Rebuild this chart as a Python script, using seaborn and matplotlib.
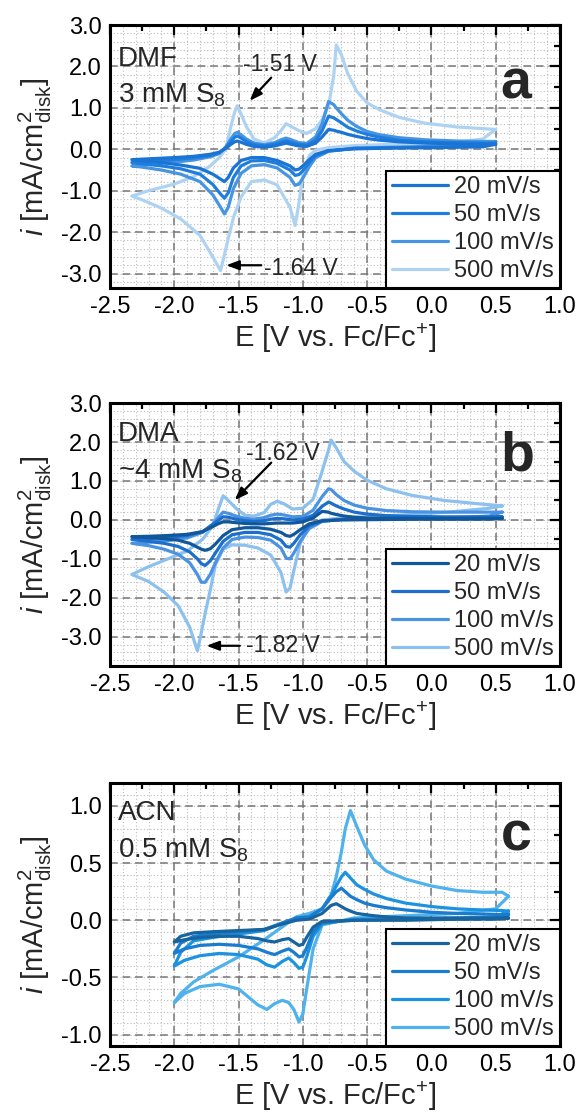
import matplotlib
matplotlib.use('Agg')
import matplotlib.pyplot as plt
from matplotlib.ticker import MultipleLocator, FormatStrFormatter
from matplotlib.lines import Line2D
import numpy as np
import pandas as pd
import seaborn as sns

sns.set_style('white')
plt.rcParams['font.family'] = ['Liberation Sans', 'DejaVu Sans']
plt.rcParams['mathtext.fontset'] = 'custom'
plt.rcParams['mathtext.rm'] = 'Liberation Sans'
plt.rcParams['mathtext.it'] = 'Liberation Sans:italic'
plt.rcParams['axes.unicode_minus'] = False

RATES = ['20 mV/s', '50 mV/s', '100 mV/s', '500 mV/s']

# ---- panel a: DMF, 3 mM S8 ----
A_E_CATH = [0.50, 0.40, 0.20, 0.00, -0.30, -0.60, -0.80, -0.90, -0.95, -1.00, -1.03, -1.06, -1.10, -1.20,
            -1.30, -1.40, -1.48, -1.54, -1.58, -1.61, -1.64, -1.70, -1.80, -1.95, -2.10, -2.25, -2.33]
A_CATH_20 = [0.12, 0.06, 0.05, 0.04, 0.03, 0.01, -0.03, -0.12, -0.25, -0.40, -0.48, -0.50, -0.40, -0.27,
             -0.20, -0.20, -0.27, -0.45, -0.68, -0.78, -0.72, -0.60, -0.46, -0.38, -0.32, -0.28, -0.25]
A_CATH_50 = [0.15, 0.08, 0.06, 0.05, 0.04, 0.02, -0.04, -0.15, -0.32, -0.52, -0.61, -0.63, -0.50, -0.34,
             -0.27, -0.28, -0.40, -0.68, -1.05, -1.18, -1.08, -0.85, -0.60, -0.47, -0.40, -0.35, -0.32]
A_CATH_100 = [0.19, 0.10, 0.08, 0.07, 0.05, 0.03, -0.05, -0.20, -0.42, -0.70, -0.84, -0.87, -0.68, -0.45,
              -0.37, -0.40, -0.58, -0.95, -1.40, -1.56, -1.40, -1.10, -0.78, -0.60, -0.50, -0.43, -0.40]
A_CATH_500 = [0.48, 0.25, 0.17, 0.14, 0.12, 0.09, 0.04, -0.02, -0.15, -0.60, -1.30, -1.84, -1.40, -0.86,
              -0.74, -0.78, -1.15, -1.65, -2.15, -2.55, -2.93, -2.60, -2.08, -1.68, -1.42, -1.22, -1.13]
A_E_ANOD = [-2.33, -2.20, -2.00, -1.85, -1.72, -1.65, -1.60, -1.56, -1.53, -1.51, -1.48, -1.44, -1.38, -1.30,
            -1.22, -1.17, -1.13, -1.09, -1.03, -0.97, -0.90, -0.85, -0.80, -0.76, -0.74, -0.70, -0.65, -0.58,
            -0.50, -0.40, -0.25, -0.05, 0.20, 0.40, 0.50]
A_ANOD_20 = [-0.25, -0.23, -0.20, -0.17, -0.12, -0.07, 0.02, 0.12, 0.18, 0.20, 0.17, 0.12, 0.07, 0.05,
             0.08, 0.12, 0.15, 0.12, 0.08, 0.07, 0.15, 0.30, 0.48, 0.46, 0.44, 0.41, 0.36, 0.31,
             0.26, 0.22, 0.18, 0.15, 0.13, 0.12, 0.12]
A_ANOD_50 = [-0.32, -0.29, -0.25, -0.21, -0.15, -0.08, 0.04, 0.18, 0.29, 0.32, 0.27, 0.19, 0.11, 0.08,
             0.12, 0.17, 0.20, 0.17, 0.12, 0.10, 0.22, 0.45, 0.80, 0.76, 0.72, 0.64, 0.53, 0.44,
             0.36, 0.29, 0.22, 0.18, 0.16, 0.15, 0.15]
A_ANOD_100 = [-0.40, -0.36, -0.31, -0.26, -0.18, -0.10, 0.05, 0.25, 0.38, 0.41, 0.35, 0.25, 0.15, 0.11,
              0.16, 0.23, 0.27, 0.23, 0.16, 0.14, 0.30, 0.62, 1.15, 1.08, 1.00, 0.86, 0.70, 0.55,
              0.43, 0.35, 0.28, 0.23, 0.20, 0.19, 0.19]
A_ANOD_500 = [-1.13, -1.00, -0.84, -0.66, -0.40, -0.20, 0.00, 0.55, 0.90, 1.05, 0.85, 0.55, 0.25, 0.15,
              0.28, 0.45, 0.62, 0.55, 0.45, 0.38, 0.50, 0.72, 1.05, 1.77, 2.52, 2.28, 1.82, 1.40,
              1.12, 0.95, 0.77, 0.63, 0.54, 0.50, 0.48]
A_COLORS = ['#1a74d6', '#1f7ddd', '#4595e3', '#aed3f2']

# ---- panel b: DMA, ~4 mM S8 ----
B_E_CATH = [0.55, 0.45, 0.20, -0.10, -0.40, -0.70, -0.85, -0.95, -1.02, -1.07, -1.10, -1.13, -1.17, -1.25,
            -1.35, -1.45, -1.55, -1.62, -1.68, -1.72, -1.76, -1.79, -1.82, -1.88, -1.97, -2.08, -2.20, -2.33]
B_CATH_20 = [0.04, 0.02, 0.02, 0.02, 0.01, 0.00, -0.02, -0.10, -0.25, -0.37, -0.42, -0.40, -0.32, -0.24,
             -0.20, -0.20, -0.25, -0.40, -0.62, -0.74, -0.78, -0.75, -0.70, -0.60, -0.52, -0.48, -0.45, -0.43]
B_CATH_50 = [0.08, 0.04, 0.03, 0.03, 0.02, 0.01, -0.03, -0.15, -0.38, -0.60, -0.70, -0.68, -0.52, -0.38,
             -0.32, -0.32, -0.38, -0.55, -0.85, -1.05, -1.17, -1.12, -1.00, -0.82, -0.68, -0.60, -0.55, -0.50]
B_CATH_100 = [0.20, 0.10, 0.06, 0.05, 0.04, 0.02, -0.04, -0.22, -0.55, -0.85, -1.00, -0.98, -0.72, -0.52,
              -0.45, -0.44, -0.50, -0.72, -1.10, -1.40, -1.60, -1.60, -1.40, -1.10, -0.88, -0.75, -0.66, -0.60]
B_CATH_500 = [0.36, 0.30, 0.22, 0.15, 0.10, 0.05, 0.00, -0.15, -0.60, -1.30, -1.75, -1.85, -1.35, -0.90,
              -0.72, -0.65, -0.64, -0.75, -1.15, -1.80, -2.40, -2.90, -3.36, -2.75, -2.20, -1.85, -1.58, -1.40]
B_E_ANOD = [-2.33, -2.20, -2.05, -1.90, -1.78, -1.70, -1.66, -1.62, -1.58, -1.52, -1.45, -1.38, -1.30, -1.25,
            -1.20, -1.15, -1.08, -1.00, -0.92, -0.85, -0.80, -0.78, -0.74, -0.68, -0.60, -0.50, -0.35, -0.15,
            0.10, 0.35, 0.55]
B_ANOD_20 = [-0.43, -0.42, -0.40, -0.37, -0.30, -0.17, -0.10, -0.05, -0.05, -0.07, -0.09, -0.10, -0.10, -0.09,
             -0.08, -0.08, -0.08, -0.05, 0.05, 0.22, 0.20, 0.17, 0.14, 0.10, 0.07, 0.05, 0.04, 0.04,
             0.04, 0.04, 0.04]
B_ANOD_50 = [-0.50, -0.48, -0.45, -0.40, -0.30, -0.12, -0.02, 0.08, 0.07, 0.02, -0.02, -0.04, -0.02, 0.02,
             0.04, 0.03, 0.00, 0.02, 0.12, 0.35, 0.46, 0.43, 0.36, 0.28, 0.20, 0.15, 0.11, 0.09,
             0.08, 0.08, 0.08]
B_ANOD_100 = [-0.60, -0.57, -0.53, -0.46, -0.32, -0.10, 0.05, 0.20, 0.17, 0.10, 0.04, 0.02, 0.06, 0.12,
              0.15, 0.13, 0.08, 0.09, 0.25, 0.60, 0.80, 0.78, 0.65, 0.50, 0.38, 0.30, 0.24, 0.21,
              0.20, 0.20, 0.20]
B_ANOD_500 = [-1.40, -1.20, -1.00, -0.80, -0.50, -0.15, 0.25, 0.62, 0.50, 0.30, 0.12, 0.10, 0.19, 0.40,
              0.48, 0.42, 0.28, 0.30, 0.53, 1.25, 1.80, 2.05, 1.85, 1.50, 1.25, 1.02, 0.80, 0.63,
              0.50, 0.42, 0.36]
B_COLORS = ['#11579b', '#1c6fcc', '#4a93e2', '#8cc1ef']

# ---- panel c: ACN, 0.5 mM S8 ----
C_E_CATH = [0.60, 0.50, 0.20, -0.20, -0.60, -0.85, -0.92, -0.97, -1.00, -1.03, -1.07, -1.11, -1.16, -1.22,
            -1.28, -1.35, -1.50, -1.65, -1.80, -1.92, -2.00]
C_CATH_20 = [0.02, 0.01, 0.01, 0.00, 0.00, -0.01, -0.06, -0.15, -0.21, -0.22, -0.19, -0.16, -0.17, -0.19,
             -0.18, -0.16, -0.14, -0.14, -0.15, -0.17, -0.19]
C_CATH_50 = [0.05, 0.02, 0.01, 0.01, 0.00, -0.02, -0.10, -0.24, -0.31, -0.32, -0.28, -0.25, -0.27, -0.30,
             -0.28, -0.25, -0.22, -0.21, -0.22, -0.25, -0.29]
C_CATH_100 = [0.08, 0.03, 0.02, 0.01, 0.01, -0.03, -0.14, -0.32, -0.41, -0.42, -0.37, -0.33, -0.36, -0.41,
              -0.39, -0.34, -0.30, -0.29, -0.31, -0.35, -0.40]
C_CATH_500 = [0.21, 0.10, 0.06, 0.04, 0.02, -0.04, -0.25, -0.60, -0.82, -0.89, -0.78, -0.72, -0.70, -0.73,
              -0.78, -0.74, -0.60, -0.56, -0.58, -0.64, -0.72]
C_E_ANOD = [-2.00, -1.95, -1.85, -1.70, -1.50, -1.30, -1.15, -1.05, -0.95, -0.85, -0.78, -0.74, -0.70, -0.67,
            -0.63, -0.58, -0.52, -0.45, -0.35, -0.20, 0.00, 0.20, 0.40, 0.55, 0.60]
C_ANOD_20 = [-0.19, -0.14, -0.11, -0.10, -0.09, -0.08, -0.03, 0.00, 0.01, 0.06, 0.13, 0.145, 0.12, 0.10,
             0.08, 0.06, 0.05, 0.04, 0.03, 0.02, 0.02, 0.02, 0.02, 0.02, 0.02]
C_ANOD_50 = [-0.29, -0.20, -0.14, -0.12, -0.10, -0.08, -0.02, 0.02, 0.03, 0.10, 0.20, 0.25, 0.28, 0.25,
             0.21, 0.18, 0.15, 0.13, 0.11, 0.09, 0.07, 0.06, 0.055, 0.05, 0.05]
C_ANOD_100 = [-0.40, -0.28, -0.18, -0.15, -0.12, -0.09, -0.02, 0.02, 0.03, 0.10, 0.22, 0.30, 0.38, 0.42,
              0.37, 0.31, 0.27, 0.23, 0.19, 0.15, 0.12, 0.10, 0.09, 0.085, 0.08]
C_ANOD_500 = [-0.72, -0.64, -0.54, -0.44, -0.32, -0.17, -0.05, 0.03, 0.06, 0.10, 0.22, 0.38, 0.60, 0.80,
              0.96, 0.82, 0.66, 0.53, 0.43, 0.36, 0.30, 0.26, 0.245, 0.245, 0.21]
C_COLORS = ['#17649f', '#1a7ccf', '#1b93e0', '#4fb2ec']


def make_frame(e_cath, cath, e_anod, anod):
    rows = []
    for rate, ic, ia in zip(RATES, cath, anod):
        e = list(e_cath) + list(e_anod)
        cur = list(ic) + list(ia)
        for k, (ev, iv) in enumerate(zip(e, cur)):
            rows.append((rate, k, ev, iv))
    return pd.DataFrame(rows, columns=['rate', 'step', 'E', 'i'])


def arrow(ax, tail, tip):
    ax.annotate('', xy=tip, xytext=tail,
                arrowprops=dict(arrowstyle='-|>,head_length=0.75,head_width=0.28',
                                color='black', lw=1.6, shrinkA=0, shrinkB=0))


def draw_panel(ax, df, colors, ylim, ymajor, yminor, ygrid, solvent, conc, letter, letter_y):
    # fine dotted background grid
    for x in np.arange(-2.5, 1.0001, 0.1):
        ax.axvline(x, color='#bdbdbd', lw=0.8, ls=(0, (1, 2)), zorder=0)
    for y in np.arange(np.ceil(ylim[0] / ygrid) * ygrid, ylim[1] + 1e-6, ygrid):
        ax.axhline(y, color='#bdbdbd', lw=0.8, ls=(0, (1, 2)), zorder=0)
    ax.grid(which='major', color='#777777', lw=1.1, ls=(0, (5, 3.2)), zorder=0.5)
    ax.set_axisbelow(True)

    pal = dict(zip(RATES, colors))
    sns.lineplot(data=df, x='E', y='i', hue='rate', hue_order=RATES[::-1], palette=pal,
                 sort=False, estimator=None, lw=2.3, ax=ax, legend=False)

    ax.set_xlim(-2.5, 1.0)
    ax.set_ylim(*ylim)
    ax.xaxis.set_major_locator(MultipleLocator(0.5))
    ax.xaxis.set_minor_locator(MultipleLocator(0.25))
    ax.yaxis.set_major_locator(MultipleLocator(ymajor))
    ax.yaxis.set_minor_locator(MultipleLocator(yminor))
    ax.xaxis.set_major_formatter(FormatStrFormatter('%.1f'))
    ax.yaxis.set_major_formatter(FormatStrFormatter('%.1f'))
    ax.tick_params(which='both', direction='in', top=True, right=True, width=1.6, colors='black')
    ax.tick_params(which='major', length=7, labelsize=17, pad=6)
    ax.tick_params(which='minor', length=4)
    for sp in ax.spines.values():
        sp.set_visible(True)
        sp.set_linewidth(2.2)
        sp.set_color('black')

    ax.set_xlabel(r'E [V vs. Fc/Fc$^{+}$]', fontsize=21, labelpad=2)
    ax.set_ylabel(r'$\mathit{i}$ [mA/$\mathrm{cm}^{2}_{\mathrm{disk}}$]', fontsize=21, labelpad=5)

    ax.text(solvent[0], solvent[1], solvent[2], fontsize=20, va='baseline', ha='left')
    ax.text(conc[0], conc[1], conc[2], fontsize=20, va='baseline', ha='left')
    ax.text(0.868, letter_y, letter, transform=ax.transAxes, fontsize=40, fontweight='bold',
            va='baseline', ha='left')

    handles = [Line2D([], [], color=c, lw=2.3) for c in colors]
    leg = ax.legend(handles, RATES, loc='lower right', borderaxespad=0, frameon=True, fancybox=False,
                    edgecolor='black', framealpha=1, fontsize=17, handlelength=2.4,
                    handletextpad=0.25, labelspacing=0.25, borderpad=0.25)
    leg.get_frame().set_linewidth(1.5)


fig = plt.figure(figsize=(5.81, 11.19), dpi=100)
ax_a = fig.add_axes([0.1893, 0.7426, 0.7745, 0.2350])
ax_b = fig.add_axes([0.1893, 0.4048, 0.7745, 0.2350])
ax_c = fig.add_axes([0.1893, 0.0652, 0.7745, 0.2350])

df_a = make_frame(A_E_CATH, [A_CATH_20, A_CATH_50, A_CATH_100, A_CATH_500],
                  A_E_ANOD, [A_ANOD_20, A_ANOD_50, A_ANOD_100, A_ANOD_500])
df_b = make_frame(B_E_CATH, [B_CATH_20, B_CATH_50, B_CATH_100, B_CATH_500],
                  B_E_ANOD, [B_ANOD_20, B_ANOD_50, B_ANOD_100, B_ANOD_500])
df_c = make_frame(C_E_CATH, [C_CATH_20, C_CATH_50, C_CATH_100, C_CATH_500],
                  C_E_ANOD, [C_ANOD_20, C_ANOD_50, C_ANOD_100, C_ANOD_500])

draw_panel(ax_a, df_a, A_COLORS, (-3.35, 3.0), 1.0, 0.5, 0.2,
           (-2.44, 2.02, 'DMF'), (-2.44, 1.13, '3 mM S$_8$'), 'a', 0.72)
ax_a.text(-1.466, 1.90, '-1.51 V', fontsize=16.5, va='baseline')
arrow(ax_a, (-1.246, 1.73), (-1.414, 1.17))
ax_a.text(-1.30, -3.04, '-1.64 V', fontsize=16.5, va='baseline')
arrow(ax_a, (-1.323, -2.80), (-1.596, -2.80))

draw_panel(ax_b, df_b, B_COLORS, (-3.75, 3.0), 1.0, 0.5, 0.2,
           (-2.44, 2.03, 'DMA'), (-2.44, 1.06, '~4 mM S$_8$'), 'b', 0.745)
ax_b.text(-1.44, 1.55, '-1.62 V', fontsize=16.5, va='baseline')
arrow(ax_b, (-1.246, 1.47), (-1.53, 0.51))
ax_b.text(-1.44, -3.40, '-1.82 V', fontsize=16.5, va='baseline')
arrow(ax_b, (-1.49, -3.23), (-1.75, -3.23))

draw_panel(ax_c, df_c, C_COLORS, (-1.1, 1.2), 0.5, 0.25, 0.1,
           (-2.44, 0.88, 'ACN'), (-2.44, 0.55, '0.5 mM S$_8$'), 'c', 0.745)

fig.savefig('out.png', dpi=100, facecolor='white')
